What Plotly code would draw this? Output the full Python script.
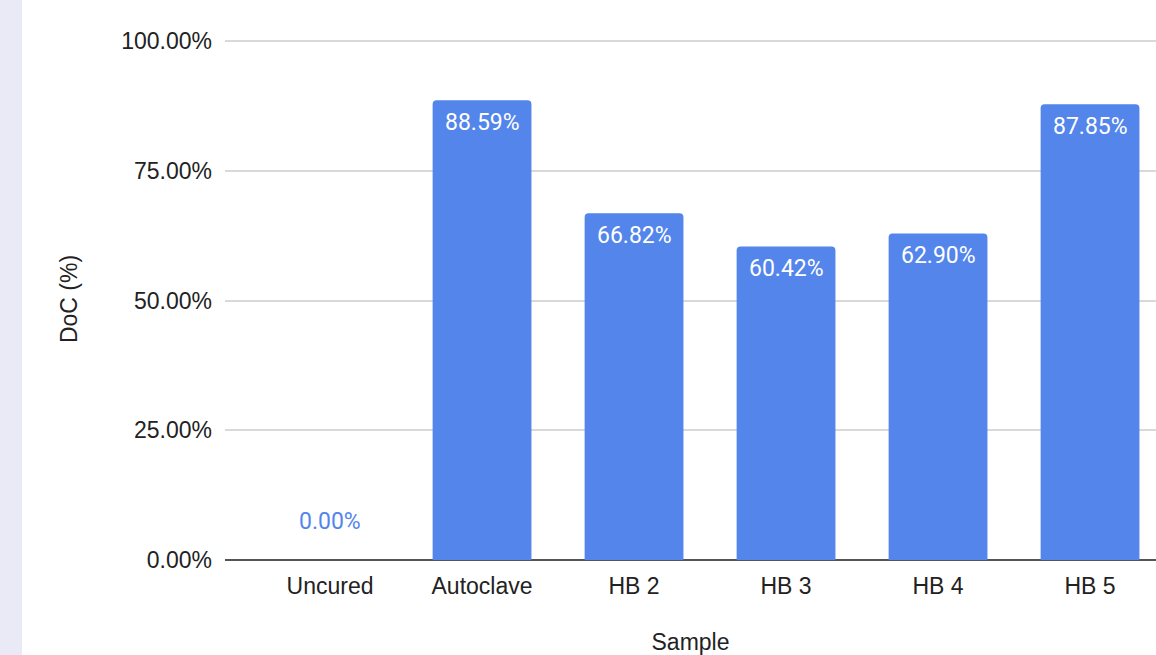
import plotly.graph_objects as go

# Degree of cure per sample
samples = ["Uncured", "Autoclave", "HB 2", "HB 3", "HB 4", "HB 5"]
doc_values = [0.00, 88.59, 66.82, 60.42, 62.90, 87.85]
y_ticks = [0, 25, 50, 75, 100]
y_tick_labels = ["0.00%", "25.00%", "50.00%", "75.00%", "100.00%"]

BAR_COLOR = "#5385EB"
TEXT_COLOR = "#222222"
AXIS_FONT = "Liberation Sans, Arial, sans-serif"
LABEL_FONT = "Roboto, sans-serif"

W, H = 1156, 655
Y_TOP = 100.6          # a little headroom so the 100% gridline is drawn
M_L, M_R, M_B = 225, 0, 95
px_per_unit = 519 / 100
plot_h = px_per_unit * Y_TOP
M_T = H - M_B - plot_h
plot_w = W - M_L - M_R

fig = go.Figure()
fig.add_trace(go.Bar(
    x=samples,
    y=doc_values,
    marker=dict(color=BAR_COLOR, line=dict(width=0)),
    width=0.65,
    hoverinfo="x+y",
))

# value labels: inside the top of each bar, above the axis for empty bars
annotations = []
for name, v in zip(samples, doc_values):
    if v > 0:
        annotations.append(dict(
            x=name, y=v, xref="x", yref="y",
            text=f"{v:.2f}%", showarrow=False,
            yanchor="middle", yshift=-22,
            font=dict(family=LABEL_FONT, size=23, color="#FFFFFF"),
        ))
    else:
        annotations.append(dict(
            x=name, y=v, xref="x", yref="y",
            text=f"{v:.2f}%", showarrow=False,
            yanchor="middle", yshift=39,
            font=dict(family=LABEL_FONT, size=23, color=BAR_COLOR),
        ))

fig.update_layout(
    width=W, height=H,
    margin=dict(l=M_L, r=M_R, t=M_T, b=M_B, pad=0),
    paper_bgcolor="#FFFFFF",
    plot_bgcolor="#FFFFFF",
    showlegend=False,
    barcornerradius=4,
    annotations=annotations,
    shapes=[dict(
        type="rect", xref="paper", yref="paper",
        x0=-M_L / plot_w, x1=(22 - M_L) / plot_w,
        y0=-M_B / plot_h - 0.05, y1=1 + M_T / plot_h + 0.05,
        fillcolor="#EAEAF6", line=dict(width=0), layer="below",
    )],
    xaxis=dict(
        range=[-0.691, 5.434],
        automargin=False,
        showgrid=False,
        showline=False,
        zeroline=False,
        ticks="",
        tickfont=dict(family=AXIS_FONT, size=23, color=TEXT_COLOR),
        ticklabelstandoff=10,
        title=dict(text="Sample", standoff=43,
                   font=dict(family=AXIS_FONT, size=23, color=TEXT_COLOR)),
        fixedrange=True,
    ),
    yaxis=dict(
        range=[0, Y_TOP],
        automargin=False,
        tickvals=y_ticks,
        ticktext=y_tick_labels,
        showgrid=True,
        gridcolor="#D9D9D9",
        gridwidth=1.5,
        zeroline=True,
        zerolinecolor="#555555",
        zerolinewidth=2,
        showline=False,
        ticks="",
        ticklabelstandoff=12,
        tickfont=dict(family=AXIS_FONT, size=23, color=TEXT_COLOR),
        title=dict(text="DoC (%)", standoff=37,
                   font=dict(family=AXIS_FONT, size=23, color=TEXT_COLOR)),
        fixedrange=True,
    ),
)

fig.write_html("out.html", config={"displayModeBar": False})
